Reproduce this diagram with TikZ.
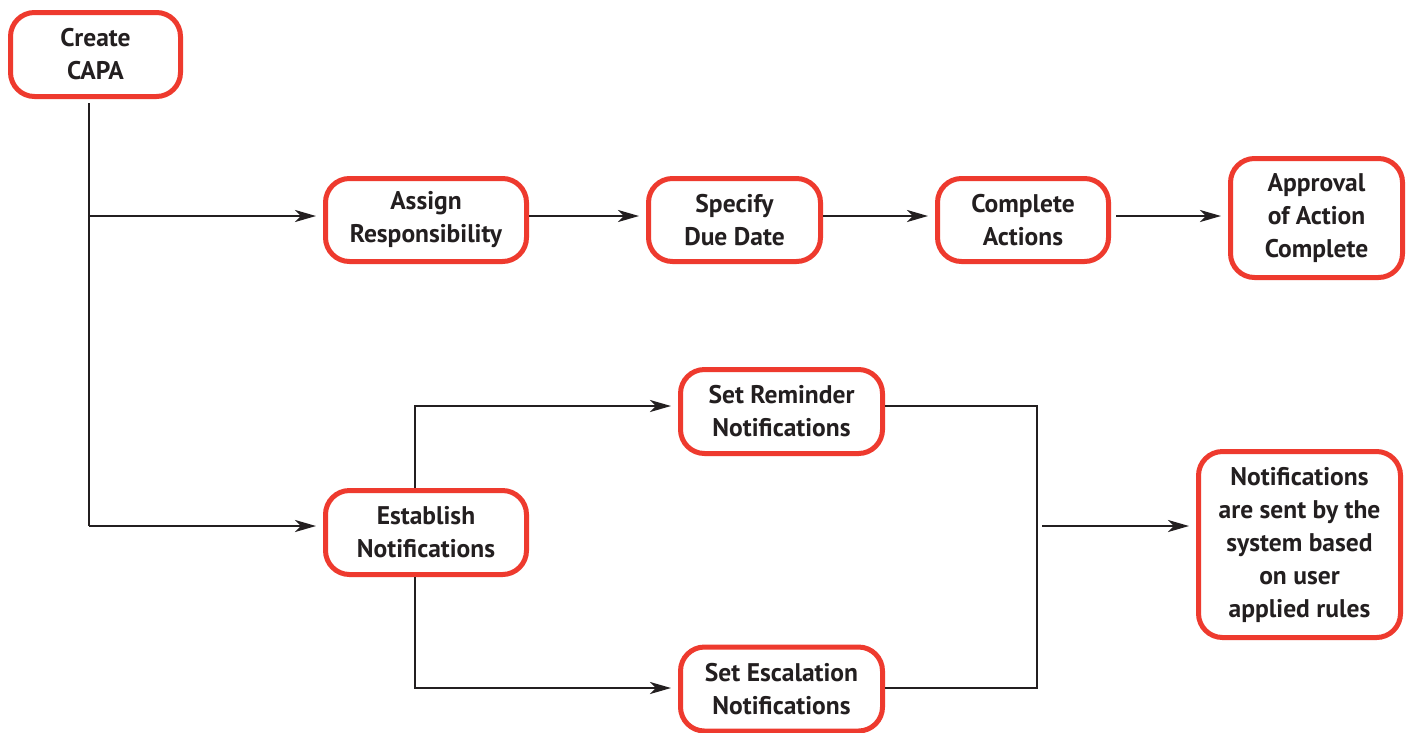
\documentclass[tikz,border=0pt]{standalone}
\usepackage{fontspec}
\setmainfont{PT Sans}
\usetikzlibrary{arrows.meta}
\definecolor{boxred}{HTML}{EE3A2E}
\definecolor{ink}{HTML}{231F20}
\begin{document}
\begin{tikzpicture}[x=1pt,y=-1pt,
  stepbox/.style={draw=boxred, line width=5pt, rounded corners=24pt,
    align=center, text=ink, inner sep=0pt,
    font=\bfseries\fontsize{25.5}{33}\selectfont},
  link/.style={draw=ink, line width=2.6pt},
  arr/.style={link, -{Stealth[length=21pt,width=12pt,inset=6pt]}, shorten >=7pt}]
\useasboundingbox[fill=white] (0,0) rectangle (1407,732);

% process steps
\node[stepbox, minimum width=170pt, minimum height=84pt] (create) at (95.5,54.5) {Create\\CAPA};
\node[stepbox, minimum width=201pt, minimum height=83pt] (assign) at (426,220) {Assign\\Responsibility};
\node[stepbox, minimum width=172pt, minimum height=83pt] (due) at (734.5,220) {Specify\\Due Date};
\node[stepbox, minimum width=171pt, minimum height=83pt] (complete) at (1023,220) {Complete\\Actions};
\node[stepbox, minimum width=172pt, minimum height=119pt] (approval) at (1316.5,218) {Approval\\of Action\\Complete};
\node[stepbox, minimum width=201pt, minimum height=84pt] (establish) at (426,532.5) {Establish\\Notifications};
\node[stepbox, minimum width=202pt, minimum height=84pt] (reminder) at (781.5,411.5) {Set Reminder\\Notifications};
\node[stepbox, minimum width=202pt, minimum height=84pt] (escalation) at (781.5,689) {Set Escalation\\Notifications};
\node[stepbox, minimum width=202pt, minimum height=186pt] (notify) at (1299.5,544.5) {Notifications\\are sent by the\\system based\\on user\\applied rules};

% junction points
\coordinate (j1) at (89,216);
\coordinate (j2) at (89,526);
\coordinate (b1) at (415,406);
\coordinate (b2) at (415,688);
\coordinate (m1) at (1037,406);
\coordinate (m2) at (1037,688);
\coordinate (m3) at (1042,526);

% main trunk from Create CAPA
\draw[link] ([xshift=-6.5pt,yshift=-4pt]create.south) -- (j2);
\draw[arr] (j1) -- (assign.west |- j1);
\draw[arr] (j2) -- (establish.west |- j2);

% upper chain
\draw[arr] (assign.east |- j1) -- (due.west |- j1);
\draw[arr] (due.east |- j1) -- (complete.west |- j1);
\draw[arr] ([xshift=5pt]complete.east |- j1) -- (approval.west |- j1);

% notification branches
\draw[arr] (establish.north -| b1) -- (b1) -- (reminder.west |- b1);
\draw[arr] (establish.south -| b2) -- (b2) -- (escalation.west |- b2);
\draw[link] (reminder.east |- m1) -- (m1) -- (m2) -- (escalation.east |- m2);
\draw[arr] (m3) -- (notify.west |- m3);
\end{tikzpicture}
\end{document}
